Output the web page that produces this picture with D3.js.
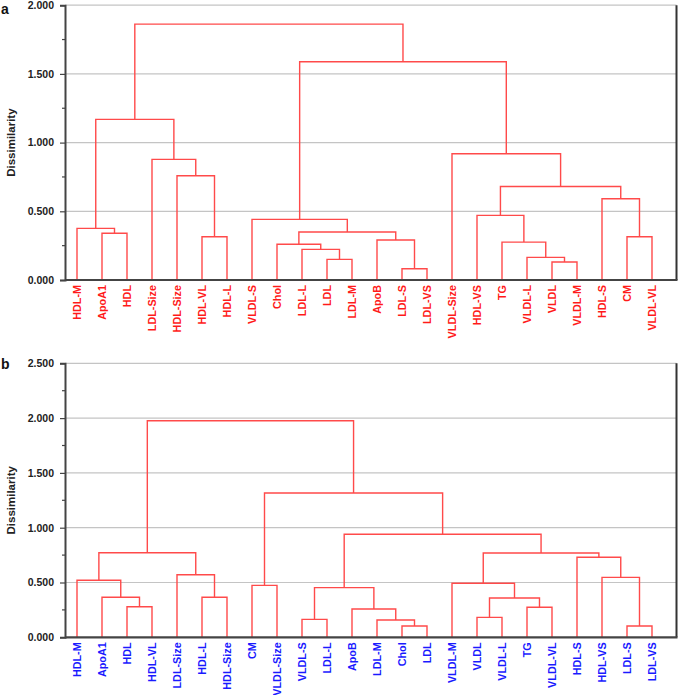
<!DOCTYPE html>
<html><head><meta charset="utf-8">
<script src="https://cdn.jsdelivr.net/npm/d3@7"></script>
<style>body{margin:0;background:#fff}svg{display:block}</style>
</head><body>
<svg id="c" width="685" height="695"></svg>
<script>
// ---------- Data ----------
const leavesA = ["HDL-M","ApoA1","HDL","LDL-Size","HDL-Size","HDL-VL","HDL-L","VLDL-S","Chol","LDL-L","LDL","LDL-M","ApoB","LDL-S","LDL-VS","VLDL-Size","HDL-VS","TG","VLDL-L","VLDL","VLDL-M","HDL-S","CM","VLDL-VL"];
// merges: [childA, childB, dissimilarity]; "mK" refers to merge K
const mergesA = [
  ["ApoA1","HDL",0.340],["HDL-M","m0",0.376],["HDL-VL","HDL-L",0.315],["HDL-Size","m2",0.759],
  ["LDL-Size","m3",0.878],["m1","m4",1.169],["LDL","LDL-M",0.150],["LDL-L","m6",0.223],
  ["Chol","m7",0.260],["LDL-S","LDL-VS",0.082],["ApoB","m9",0.291],["m8","m10",0.349],
  ["VLDL-S","m11",0.441],["VLDL","VLDL-M",0.131],["VLDL-L","m13",0.165],["TG","m14",0.276],
  ["HDL-VS","m15",0.470],["CM","VLDL-VL",0.315],["HDL-S","m17",0.591],["m16","m18",0.681],
  ["VLDL-Size","m19",0.919],["m12","m20",1.588],["m5","m21",1.862]
];
const leavesB = ["HDL-M","ApoA1","HDL","HDL-VL","LDL-Size","HDL-L","HDL-Size","CM","VLDL-Size","VLDL-S","LDL-L","ApoB","LDL-M","Chol","LDL","VLDL-M","VLDL","VLDL-L","TG","VLDL-VL","HDL-S","HDL-VS","LDL-S","LDL-VS"];
const mergesB = [
  ["HDL","HDL-VL",0.279],["ApoA1","m0",0.365],["HDL-M","m1",0.520],["HDL-L","HDL-Size",0.365],
  ["LDL-Size","m3",0.571],["m2","m4",0.772],["CM","VLDL-Size",0.474],["VLDL-S","LDL-L",0.164],
  ["Chol","LDL",0.103],["LDL-M","m8",0.158],["ApoB","m9",0.258],["m7","m10",0.453],
  ["VLDL","VLDL-L",0.182],["TG","VLDL-VL",0.274],["m12","m13",0.359],["VLDL-M","m14",0.493],
  ["LDL-S","LDL-VS",0.103],["HDL-VS","m16",0.547],["HDL-S","m17",0.730],["m15","m18",0.769],
  ["m11","m19",0.940],["m6","m20",1.317],["m5","m21",1.976]
];
const yTicksA = [0, 0.5, 1, 1.5, 2];
const yTicksB = [0, 0.5, 1, 1.5, 2, 2.5];

// ---------- Drawing ----------
const svg = d3.select("#c");
const font = "'Liberation Sans', Arial, sans-serif";

function panel(cfg){
  const {leaves, merges, ticks, yMax, top, bottom, label, labelY, leafColor} = cfg;
  const left = 65, right = 676.5;
  const g = svg.append("g");
  const x = d3.scaleLinear().domain([0, leaves.length-1]).range([77, 652]);
  const y = d3.scaleLinear().domain([0, yMax]).range([bottom, top]);

  // gridlines
  g.selectAll("line.grid").data(ticks.filter(t=>t>0)).join("line")
    .attr("x1", left).attr("x2", right).attr("y1", d=>y(d)).attr("y2", d=>y(d))
    .attr("stroke", "#c4c4c4").attr("stroke-width", 1.2);

  // positions
  const pos = {};
  leaves.forEach((n,i)=>pos[n] = {x: x(i), h: 0});
  const lineColor = "#ff4a4a";
  merges.forEach((m,k)=>{
    const a = pos[m[0]], b = pos[m[1]], h = m[2];
    pos["m"+k] = {x: (a.x+b.x)/2, h};
    const path = `M${a.x},${y(a.h)}V${y(h)}H${b.x}V${y(b.h)}`;
    g.append("path").attr("d", path).attr("fill","none")
      .attr("stroke", lineColor).attr("stroke-width", 1.4);
  });

  // right border
  g.append("line").attr("x1", right).attr("x2", right).attr("y1", top).attr("y2", bottom)
    .attr("stroke", "#333").attr("stroke-width", 2);

  // y axis
  const minor = d3.range(0, yMax+0.001, 0.25);
  const ax = d3.axisLeft(y).tickValues(ticks).tickFormat(d3.format(".3f")).tickSize(5).tickPadding(6);
  const axG = g.append("g").attr("transform", `translate(${left},0)`).call(ax);
  axG.select(".domain").attr("stroke", "#444").attr("stroke-width", 2);
  axG.selectAll(".tick line").attr("stroke", "#444").attr("stroke-width", 1.2);
  axG.selectAll(".tick text").attr("font-family", font).attr("font-size", 10.5)
    .attr("font-weight", "bold").attr("fill", "#222");
  g.selectAll("line.minor").data(minor.filter(v=>!ticks.includes(v))).join("line")
    .attr("x1", left-3).attr("x2", left).attr("y1", d=>y(d)).attr("y2", d=>y(d))
    .attr("stroke", "#444").attr("stroke-width", 1.2);

  // bottom axis
  g.append("line").attr("x1", left).attr("x2", right+1).attr("y1", bottom).attr("y2", bottom)
    .attr("stroke", "#444").attr("stroke-width", 2.2);

  // leaf labels
  g.selectAll("text.leaf").data(leaves).join("text")
    .attr("transform", (d,i)=>`translate(${x(i)+3.8},${bottom+5}) rotate(-90)`)
    .attr("text-anchor", "end").attr("font-family", font).attr("font-size", 10.8)
    .attr("font-weight", "bold").attr("fill", leafColor).text(d=>d);

  // y title
  g.append("text").attr("transform", `translate(15,${(top+bottom)/2}) rotate(-90)`)
    .attr("text-anchor", "middle").attr("font-family", font).attr("font-size", 11.5)
    .attr("font-weight", "bold").attr("fill", "#222").text("Dissimilarity");

  // panel label
  g.append("text").attr("x", 1).attr("y", labelY).attr("font-family", font)
    .attr("font-size", 14).attr("font-weight", "bold").attr("fill", "#111").text(label);
}

panel({leaves: leavesA, merges: mergesA, ticks: yTicksA, yMax: 2, top: 5.2, bottom: 280,
  label: "a", labelY: 14, leafColor: "#ff1a1a"});
panel({leaves: leavesB, merges: mergesB, ticks: yTicksB, yMax: 2.5, top: 363.3, bottom: 637.3,
  label: "b", labelY: 369, leafColor: "#1a1aff"});
</script>
</body></html>
